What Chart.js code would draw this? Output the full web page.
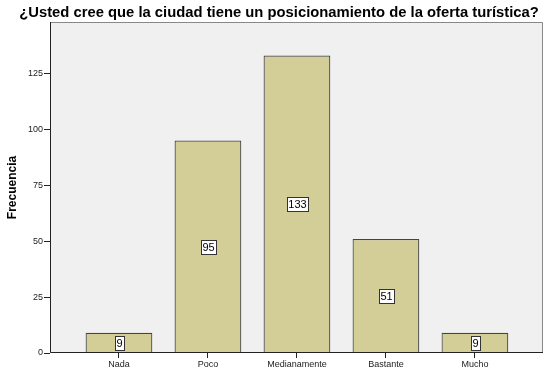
<!DOCTYPE html>
<html>
<head>
<meta charset="utf-8">
<script src="https://cdn.jsdelivr.net/npm/chart.js@4/dist/chart.umd.min.js"></script>
<style>
  html, body { margin: 0; padding: 0; background: #fff; }
  #wrap { width: 558px; height: 376px; }
</style>
</head>
<body>
<div id="wrap"><canvas id="grafico" width="558" height="376"></canvas></div>
<script>
// datos del gráfico
const categorias = ["Nada", "Poco", "Medianamente", "Bastante", "Mucho"];
const frecuencias = [9, 95, 133, 51, 9];
const ticksY = [0, 25, 50, 75, 100, 125];
const titulo = "¿Usted cree que la ciudad tiene un posicionamiento de la oferta turística?";

const fuente = "'Liberation Sans', Arial, sans-serif";

// fondo gris, borde del área y título
const marcoPlugin = {
  id: "marco",
  beforeDraw(chart) {
    const { ctx, chartArea: a } = chart;
    ctx.save();
    ctx.fillStyle = "#f0f0f0";
    ctx.fillRect(a.left, a.top, a.right - a.left, a.bottom - a.top);
    ctx.fillStyle = "#000";
    ctx.font = "bold 14.8px " + fuente;
    ctx.textAlign = "center";
    ctx.textBaseline = "middle";
    ctx.fillText(titulo, 279, 13);
    ctx.restore();
  },
  afterDatasetsDraw(chart) {
    const { ctx, chartArea: a } = chart;
    ctx.save();
    ctx.lineWidth = 1;
    ctx.strokeStyle = "#888";
    ctx.beginPath();
    ctx.moveTo(a.left + 0.5, a.top + 0.5);
    ctx.lineTo(a.right - 0.5, a.top + 0.5);
    ctx.lineTo(a.right - 0.5, a.bottom - 0.5);
    ctx.stroke();
    ctx.strokeStyle = "#222";
    ctx.beginPath();
    ctx.moveTo(a.left + 0.5, a.top);
    ctx.lineTo(a.left + 0.5, a.bottom - 0.5);
    ctx.lineTo(a.right, a.bottom - 0.5);
    ctx.stroke();

    // etiquetas de valor en cajas blancas
    const meta = chart.getDatasetMeta(0);
    ctx.font = "11px " + fuente;
    ctx.textAlign = "center";
    ctx.textBaseline = "middle";
    meta.data.forEach((bar, i) => {
      const txt = String(frecuencias[i]);
      const w = Math.round(ctx.measureText(txt).width) + 3;
      const h = 14;
      const cx = Math.round(bar.x);
      const cy = Math.round((bar.y + bar.base) / 2);
      const x0 = Math.round(cx - w / 2) + 0.5;
      const y0 = Math.round(cy - h / 2) + 0.5;
      ctx.fillStyle = "#fff";
      ctx.fillRect(x0, y0, w, h);
      ctx.strokeStyle = "#333";
      ctx.strokeRect(x0, y0, w, h);
      ctx.fillStyle = "#000";
      ctx.fillText(txt, cx + 0.5, cy + 1);
    });
    ctx.restore();
  }
};

new Chart(document.getElementById("grafico"), {
  type: "bar",
  data: {
    datasets: [{
      data: frecuencias.map((v, i) => ({ x: i, y: v })),
      backgroundColor: "#d3ce98",
      borderColor: "#444",
      borderWidth: 1.2,
      barPercentage: 0.75,
      categoryPercentage: 1
    }]
  },
  plugins: [marcoPlugin],
  options: {
    responsive: false,
    animation: false,
    layout: { padding: { top: 22, right: 15, left: 0, bottom: 0 } },
    plugins: { legend: { display: false }, tooltip: { enabled: false } },
    scales: {
      x: {
        type: "linear",
        offset: false,
        min: -0.775,
        max: 4.765,
        afterBuildTicks: (s) => { s.ticks = categorias.map((c, i) => ({ value: i })); },
        afterFit: (s) => { s.height = 23; },
        grid: { offset: false, drawOnChartArea: false, drawTicks: true, tickLength: 5, color: "#222" },
        border: { display: false },
        ticks: {
          callback: (v) => categorias[v],
          font: { family: fuente, size: 9 },
          color: "#222",
          padding: 1,
          maxRotation: 0
        }
      },
      y: {
        min: 0,
        max: 148,
        afterBuildTicks: (s) => { s.ticks = ticksY.map((v) => ({ value: v })); },
        afterFit: (s) => { s.width = 50; },
        grid: { drawOnChartArea: false, drawTicks: true, tickLength: 6, color: "#222" },
        border: { display: false },
        title: {
          display: true,
          text: "Frecuencia",
          font: { family: fuente, size: 12, weight: "bold" },
          color: "#000",
          padding: { top: 5, bottom: 4 }
        },
        ticks: {
          font: { family: fuente, size: 9 },
          color: "#222",
          padding: 1
        }
      }
    }
  }
});
</script>
</body>
</html>
